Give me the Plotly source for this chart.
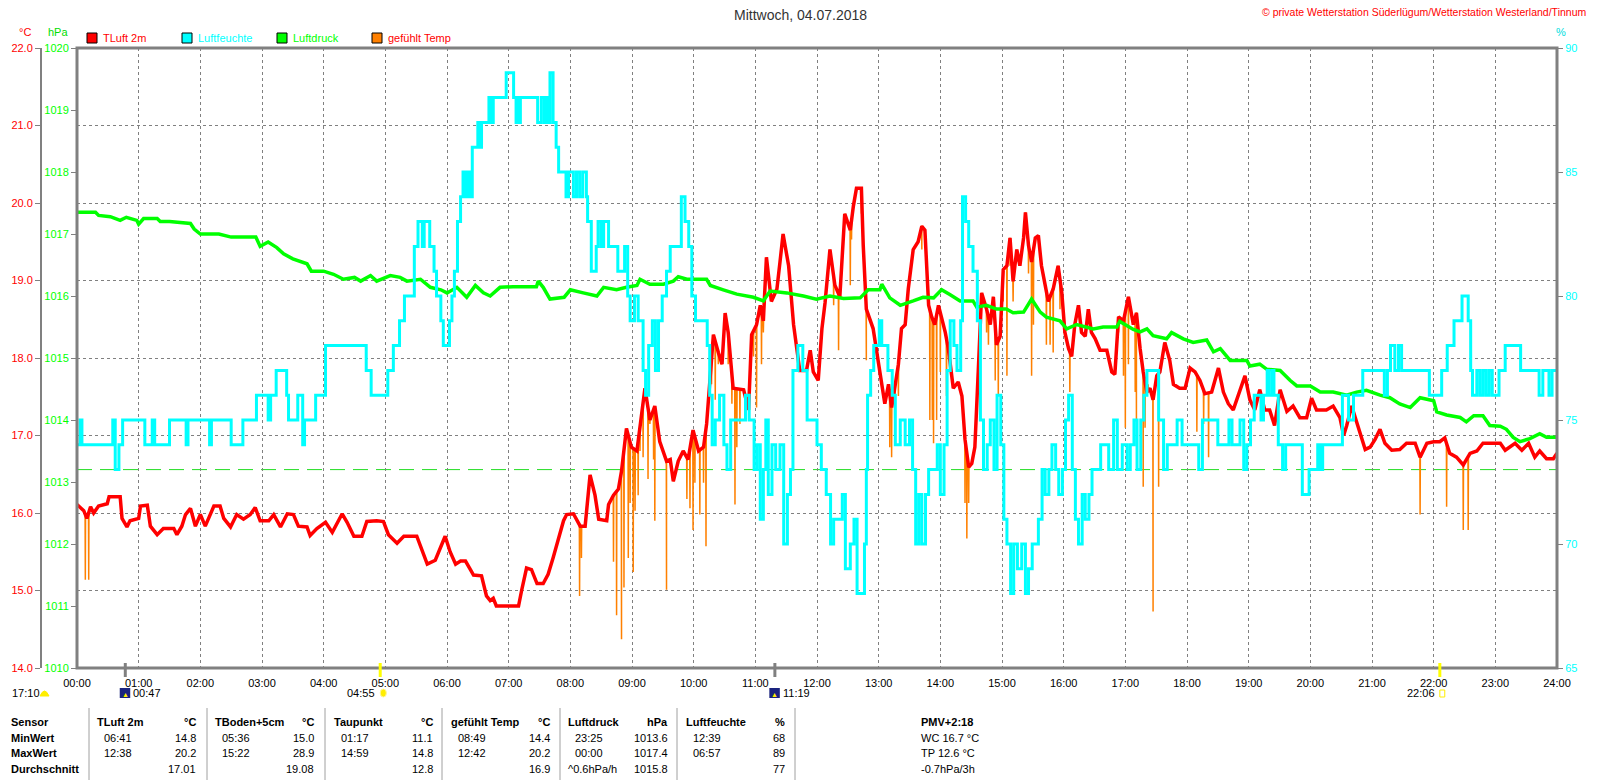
import numpy as np
import plotly.graph_objects as go

# ------------------------------------------------------------------
# Messwerte 04.07.2018 (Zeit in Stunden, abgelesen aus der Grafik)
# ------------------------------------------------------------------
tluft_zeit = [0.0, 0.11, 0.16, 0.22, 0.27, 0.35, 0.49, 0.52, 0.7, 0.73, 0.81, 0.86, 1.0, 1.03, 1.14, 1.19,
              1.3, 1.4, 1.57, 1.62, 1.7, 1.76, 1.84, 1.92, 2.0, 2.08, 2.22, 2.32, 2.38, 2.49, 2.59, 2.7,
              2.81, 2.89, 2.97, 3.11, 3.19, 3.3, 3.41, 3.51, 3.59, 3.73, 3.78, 3.89, 4.03, 4.14, 4.3, 4.38,
              4.49, 4.62, 4.7, 4.86, 4.97, 5.05, 5.19, 5.3, 5.51, 5.62, 5.68, 5.81, 5.86, 5.97, 6.05, 6.14,
              6.22, 6.3, 6.38, 6.43, 6.56, 6.64, 6.7, 6.75, 6.8, 7.16, 7.21, 7.29, 7.37, 7.46, 7.56, 7.64,
              7.72, 7.81, 7.89, 7.94, 8.05, 8.16, 8.24, 8.32, 8.4, 8.46, 8.59, 8.62, 8.7, 8.78, 8.83, 8.91,
              8.99, 9.08, 9.16, 9.21, 9.29, 9.37, 9.45, 9.56, 9.62, 9.67, 9.75, 9.83, 9.91, 9.99, 10.08, 10.16,
              10.21, 10.27, 10.32, 10.4, 10.46, 10.51, 10.56, 10.64, 10.81, 10.89, 10.94, 11.02, 11.08, 11.13, 11.18, 11.26,
              11.35, 11.4, 11.45, 11.54, 11.62, 11.72, 11.83, 11.89, 11.94, 12.02, 12.08, 12.13, 12.21, 12.29, 12.37, 12.45,
              12.54, 12.59, 12.64, 12.72, 12.75, 12.8, 12.86, 12.91, 12.99, 13.05, 13.1, 13.16, 13.21, 13.26, 13.32, 13.37,
              13.43, 13.48, 13.56, 13.64, 13.7, 13.75, 13.81, 13.86, 13.91, 13.97, 14.02, 14.08, 14.13, 14.21, 14.29, 14.35,
              14.4, 14.46, 14.51, 14.56, 14.62, 14.67, 14.75, 14.81, 14.86, 14.91, 14.97, 15.02, 15.08, 15.13, 15.18, 15.24,
              15.29, 15.35, 15.38, 15.43, 15.48, 15.54, 15.59, 15.64, 15.7, 15.75, 15.83, 15.91, 15.97, 16.02, 16.08, 16.13,
              16.18, 16.24, 16.29, 16.35, 16.4, 16.45, 16.51, 16.59, 16.7, 16.78, 16.83, 16.89, 16.97, 17.05, 17.13, 17.18,
              17.24, 17.29, 17.35, 17.4, 17.45, 17.51, 17.56, 17.64, 17.72, 17.78, 17.88, 17.97, 18.05, 18.13, 18.21, 18.29,
              18.4, 18.51, 18.59, 18.67, 18.75, 18.83, 18.94, 19.02, 19.1, 19.18, 19.26, 19.34, 19.42, 19.51, 19.62, 19.72,
              19.83, 19.94, 20.02, 20.1, 20.26, 20.37, 20.48, 20.54, 20.59, 20.67, 20.75, 20.8, 20.89, 20.97, 21.05, 21.13,
              21.21, 21.32, 21.45, 21.56, 21.7, 21.78, 21.89, 22.0, 22.1, 22.18, 22.26, 22.37, 22.48, 22.59, 22.7, 22.8,
              22.91, 23.08, 23.16, 23.32, 23.43, 23.54, 23.64, 23.72, 23.83, 23.94, 24.0]
tluft_wert = [16.11, 16.03, 15.93, 16.08, 16.0, 16.09, 16.12, 16.21, 16.21, 15.93, 15.82, 15.9, 15.93, 16.09, 16.1, 15.83,
              15.72, 15.8, 15.8, 15.72, 15.83, 15.98, 16.06, 15.83, 15.98, 15.83, 16.09, 16.09, 15.93, 15.82, 15.98, 15.92,
              15.98, 16.07, 15.9, 15.9, 15.98, 15.82, 15.99, 15.98, 15.83, 15.82, 15.71, 15.8, 15.88, 15.75, 15.99, 15.88,
              15.7, 15.7, 15.89, 15.9, 15.89, 15.72, 15.61, 15.7, 15.7, 15.47, 15.34, 15.39, 15.48, 15.7, 15.5, 15.34,
              15.38, 15.38, 15.27, 15.2, 15.19, 14.93, 14.87, 14.9, 14.8, 14.8, 15.0, 15.29, 15.27, 15.09, 15.09, 15.21,
              15.42, 15.67, 15.9, 15.98, 15.99, 15.83, 15.83, 16.49, 16.23, 15.92, 15.9, 16.11, 16.23, 16.31, 16.54, 17.09,
              16.85, 16.8, 17.31, 17.61, 17.2, 17.38, 16.92, 16.67, 16.69, 16.41, 16.67, 16.8, 16.69, 17.07, 16.8, 16.85,
              17.15, 17.84, 18.3, 18.07, 17.92, 18.58, 18.33, 17.61, 17.59, 17.33, 18.3, 18.43, 18.68, 18.48, 19.3, 18.73,
              18.89, 19.24, 19.6, 19.19, 18.43, 17.84, 17.84, 18.1, 17.82, 17.71, 18.38, 18.71, 19.4, 18.94, 18.79, 19.86,
              19.65, 19.96, 20.19, 20.19, 19.45, 18.63, 18.48, 18.38, 17.97, 17.66, 17.41, 17.66, 17.36, 17.61, 17.92, 18.38,
              18.43, 18.89, 19.4, 19.5, 19.7, 19.65, 18.68, 18.53, 18.43, 18.68, 18.53, 18.33, 18.12, 17.61, 17.69, 17.51,
              16.95, 16.59, 16.64, 16.85, 17.92, 18.84, 18.63, 18.43, 18.79, 18.17, 18.28, 19.14, 19.19, 19.55, 18.99, 19.4,
              19.19, 19.55, 19.88, 19.45, 19.24, 19.55, 19.58, 19.19, 18.94, 18.73, 18.89, 19.19, 18.84, 18.33, 18.12, 18.02,
              18.43, 18.68, 18.33, 18.28, 18.63, 18.33, 18.25, 18.1, 18.1, 17.82, 17.79, 18.53, 18.48, 18.79, 18.43, 18.58,
              18.12, 17.82, 17.56, 17.61, 17.46, 17.77, 17.82, 18.2, 17.97, 17.66, 17.61, 17.61, 17.87, 17.82, 17.71, 17.54,
              17.56, 17.87, 17.56, 17.41, 17.33, 17.51, 17.77, 17.46, 17.33, 17.59, 17.33, 17.33, 17.13, 17.59, 17.31, 17.38,
              17.23, 17.23, 17.48, 17.33, 17.33, 17.38, 17.23, 17.0, 17.13, 17.38, 17.18, 17.03, 16.82, 16.85, 16.95, 17.08,
              16.9, 16.81, 16.82, 16.9, 16.9, 16.72, 16.9, 16.92, 16.92, 16.97, 16.77, 16.72, 16.62, 16.77, 16.8, 16.9,
              16.9, 16.9, 16.81, 16.9, 16.81, 16.9, 16.72, 16.8, 16.7, 16.7, 16.77]

# gefuehlte Temperatur: Abweichungen nach unten (sonst = TLuft)
gefuehlt_zeit = [0.135, 0.19, 8.15, 8.18, 8.7, 8.75, 8.83, 8.87, 8.94, 8.97, 9.02, 9.05, 9.1, 9.13, 9.18, 9.26,
                 9.29, 9.35, 9.37, 9.56, 9.89, 9.94, 9.99, 10.02, 10.1, 10.16, 10.2, 10.29, 10.35, 10.4, 10.56, 10.62,
                 10.67, 10.7, 10.75, 10.97, 11.02, 11.1, 11.13, 12.27, 12.35, 12.54, 12.56, 12.72, 12.8, 13.18, 13.21, 13.26,
                 13.32, 13.7, 13.83, 13.87, 13.89, 13.94, 14.0, 14.1, 14.4, 14.43, 14.46, 14.75, 14.78, 14.89, 14.94, 15.02,
                 15.08, 15.13, 15.18, 15.43, 15.48, 15.51, 15.72, 15.78, 15.83, 15.94, 16.1, 16.21, 16.89, 16.97, 17.0, 17.05,
                 17.16, 17.18, 17.29, 17.32, 17.37, 17.45, 17.54, 18.16, 18.27, 18.35, 18.81, 21.78, 22.21, 22.48, 22.56]
gefuehlt_wert = [15.14, 15.14, 14.93, 15.42, 15.37, 14.68, 14.37, 15.04, 15.42, 16.13, 15.24, 16.03, 16.23, 16.8, 16.72, 16.44,
                 17.15, 16.69, 15.9, 15.01, 16.18, 16.06, 15.78, 16.39, 15.98, 16.39, 15.57, 17.66, 17.46, 17.92, 17.92, 17.41,
                 16.11, 16.85, 17.15, 18.02, 17.36, 17.92, 18.33, 18.68, 18.1, 18.94, 19.53, 19.86, 17.97, 16.85, 16.72, 17.2,
                 17.51, 19.4, 17.2, 17.2, 16.9, 17.2, 17.82, 17.51, 16.13, 15.67, 16.13, 18.33, 18.17, 17.71, 17.51, 18.73,
                 17.77, 19.19, 18.73, 19.09, 17.77, 18.43, 18.17, 18.17, 18.07, 18.63, 17.56, 18.58, 18.33, 17.77, 17.1, 17.92,
                 17.56, 17.2, 16.34, 17.1, 17.66, 14.73, 16.34, 17.05, 17.15, 16.72, 17.51, 15.98, 16.08, 15.78, 15.78]

feuchte_zeit = [0.0, 0.05, 0.08, 0.58, 0.62, 0.68, 0.74, 1.1, 1.22, 1.26, 1.5, 1.77, 1.8, 2.15, 2.18, 2.5,
                2.69, 2.91, 3.1, 3.14, 3.23, 3.4, 3.43, 3.58, 3.66, 3.69, 3.87, 4.03, 4.69, 4.77, 5.04, 5.13,
                5.23, 5.31, 5.47, 5.53, 5.6, 5.63, 5.72, 5.79, 5.83, 5.9, 5.94, 6.04, 6.08, 6.12, 6.17, 6.22,
                6.26, 6.3, 6.33, 6.37, 6.41, 6.5, 6.53, 6.56, 6.68, 6.72, 6.75, 6.96, 7.08, 7.12, 7.14, 7.17,
                7.19, 7.47, 7.53, 7.58, 7.6, 7.64, 7.67, 7.72, 7.77, 7.81, 7.93, 7.97, 8.05, 8.1, 8.15, 8.2,
                8.26, 8.28, 8.34, 8.42, 8.45, 8.5, 8.54, 8.62, 8.77, 8.88, 8.93, 8.97, 9.04, 9.1, 9.18, 9.22,
                9.27, 9.33, 9.38, 9.43, 9.49, 9.56, 9.62, 9.8, 9.86, 9.92, 9.97, 10.03, 10.22, 10.26, 10.3, 10.35,
                10.42, 10.49, 10.54, 10.6, 10.84, 10.9, 10.98, 11.03, 11.08, 11.13, 11.17, 11.21, 11.27, 11.33, 11.4, 11.46,
                11.52, 11.57, 11.61, 11.69, 11.77, 11.84, 12.0, 12.07, 12.15, 12.22, 12.27, 12.41, 12.46, 12.54, 12.6, 12.65,
                12.77, 12.8, 12.82, 12.87, 12.92, 13.01, 13.05, 13.15, 13.22, 13.27, 13.35, 13.43, 13.5, 13.55, 13.6, 13.65,
                13.7, 13.76, 13.81, 13.95, 14.0, 14.06, 14.11, 14.16, 14.22, 14.27, 14.33, 14.36, 14.41, 14.46, 14.53, 14.6,
                14.65, 14.7, 14.76, 14.81, 14.87, 14.92, 14.98, 15.03, 15.08, 15.14, 15.19, 15.25, 15.32, 15.38, 15.43, 15.49,
                15.59, 15.65, 15.7, 15.76, 15.81, 15.87, 15.92, 15.98, 16.03, 16.08, 16.14, 16.19, 16.24, 16.3, 16.35, 16.41,
                16.46, 16.6, 16.73, 16.81, 16.87, 16.95, 17.03, 17.08, 17.14, 17.19, 17.25, 17.3, 17.35, 17.54, 17.62, 17.68,
                17.84, 17.92, 18.19, 18.25, 18.5, 18.68, 18.73, 18.86, 18.92, 18.97, 19.03, 19.09, 19.2, 19.24, 19.3, 19.33,
                19.38, 19.41, 19.48, 19.55, 19.6, 19.87, 19.98, 20.12, 20.16, 20.2, 20.52, 20.62, 20.7, 20.85, 21.2, 21.25,
                21.3, 21.37, 21.43, 21.48, 21.93, 22.13, 22.22, 22.33, 22.46, 22.56, 22.6, 22.63, 22.7, 22.75, 22.8, 22.85,
                22.9, 22.95, 23.06, 23.16, 23.41, 23.71, 23.77, 23.87, 23.92, 24.0]
feuchte_wert = [74, 75, 74, 75, 73, 74, 75, 74, 75, 74, 75, 74, 75, 74, 75, 74,
                75, 76, 75, 76, 77, 76, 75, 76, 74, 75, 76, 78, 77, 76, 77, 78,
                79, 80, 82, 83, 82, 83, 82, 81, 80, 79, 78, 79, 80, 81, 83, 84,
                85, 84, 85, 84, 86, 87, 86, 87, 88, 87, 88, 89, 88, 87, 88, 87,
                88, 87, 88, 87, 88, 87, 89, 87, 86, 85, 84, 85, 84, 85, 84, 85,
                84, 83, 81, 82, 83, 82, 83, 82, 81, 82, 80, 79, 80, 79, 77, 76,
                78, 79, 77, 79, 80, 81, 82, 84, 83, 82, 80, 79, 78, 76, 74, 75,
                76, 74, 73, 75, 76, 75, 73, 74, 71, 73, 75, 72, 74, 73, 74, 70,
                72, 73, 77, 78, 77, 75, 74, 73, 72, 70, 71, 72, 69, 70, 71, 68,
                70, 73, 76, 77, 78, 79, 78, 77, 76, 74, 75, 74, 75, 73, 70, 72,
                70, 72, 73, 74, 72, 74, 77, 79, 78, 77, 79, 84, 83, 82, 81, 79,
                75, 73, 74, 75, 73, 76, 74, 71, 70, 68, 70, 69, 70, 68, 69, 70,
                71, 73, 72, 73, 74, 73, 72, 73, 75, 76, 73, 71, 70, 72, 71, 72,
                73, 74, 73, 75, 73, 74, 73, 74, 75, 73, 75, 76, 77, 75, 73, 74,
                75, 74, 73, 75, 74, 75, 74, 75, 73, 74, 75, 76, 75, 76, 77, 76,
                77, 76, 74, 73, 74, 72, 73, 74, 73, 74, 76, 75, 76, 77, 76, 77,
                78, 77, 78, 77, 76, 77, 78, 79, 80, 79, 77, 76, 77, 76, 77, 76,
                77, 76, 77, 78, 77, 76, 77, 76, 77, 77]

druck_zeit = [0.0, 0.3, 0.35, 0.54, 0.7, 0.8, 0.97, 1.0, 1.08, 1.3, 1.35, 1.5, 1.84, 1.9, 2.0, 2.3,
              2.5, 2.9, 2.97, 3.1, 3.24, 3.35, 3.5, 3.73, 3.8, 4.0, 4.16, 4.32, 4.5, 4.6, 4.76, 4.86,
              5.08, 5.24, 5.35, 5.57, 5.73, 5.9, 6.0, 6.16, 6.32, 6.46, 6.59, 6.7, 6.86, 7.07, 7.45, 7.48,
              7.56, 7.67, 7.9, 8.0, 8.21, 8.43, 8.54, 8.75, 8.91, 9.08, 9.13, 9.29, 9.51, 9.67, 9.75, 9.89,
              10.21, 10.27, 10.48, 10.7, 10.97, 11.13, 11.24, 11.51, 11.78, 11.99, 12.21, 12.43, 12.7, 12.83, 13.02, 13.05,
              13.18, 13.35, 13.56, 13.72, 13.89, 14.02, 14.16, 14.32, 14.53, 14.59, 14.75, 14.91, 15.07, 15.18, 15.35, 15.48,
              15.62, 15.72, 15.94, 16.05, 16.21, 16.48, 16.64, 16.86, 16.91, 17.13, 17.24, 17.35, 17.45, 17.67, 17.75, 17.94,
              18.1, 18.32, 18.43, 18.54, 18.7, 18.97, 19.02, 19.18, 19.29, 19.51, 19.67, 19.78, 20.0, 20.16, 20.37, 20.59,
              20.75, 20.91, 21.13, 21.29, 21.45, 21.62, 21.78, 22.0, 22.05, 22.21, 22.43, 22.53, 22.65, 22.8, 22.91, 23.08,
              23.18, 23.29, 23.4, 23.56, 23.72, 23.83, 24.0]
druck_wert = [1017.35, 1017.35, 1017.3, 1017.28, 1017.22, 1017.27, 1017.22, 1017.16, 1017.25, 1017.25, 1017.2, 1017.2, 1017.17, 1017.08, 1017.0, 1017.0,
              1016.95, 1016.95, 1016.8, 1016.87, 1016.78, 1016.68, 1016.6, 1016.52, 1016.4, 1016.4, 1016.35, 1016.27, 1016.3, 1016.24, 1016.33, 1016.24,
              1016.33, 1016.3, 1016.24, 1016.27, 1016.14, 1016.1, 1016.05, 1016.14, 1015.98, 1016.17, 1016.05, 1016.0, 1016.14, 1016.15, 1016.15, 1016.24,
              1016.14, 1015.95, 1015.98, 1016.1, 1016.05, 1016.0, 1016.14, 1016.1, 1016.14, 1016.17, 1016.27, 1016.19, 1016.19, 1016.24, 1016.31, 1016.27,
              1016.27, 1016.17, 1016.1, 1016.03, 1015.98, 1015.92, 1016.08, 1016.05, 1016.0, 1015.95, 1016.0, 1015.96, 1015.97, 1016.1, 1016.1, 1016.19,
              1015.97, 1015.85, 1015.92, 1015.98, 1015.97, 1016.1, 1016.02, 1015.92, 1015.92, 1015.82, 1015.85, 1015.79, 1015.79, 1015.73, 1015.74, 1015.95,
              1015.74, 1015.66, 1015.6, 1015.47, 1015.54, 1015.47, 1015.5, 1015.5, 1015.59, 1015.46, 1015.42, 1015.47, 1015.36, 1015.31, 1015.41, 1015.31,
              1015.25, 1015.29, 1015.1, 1015.15, 1014.96, 1014.96, 1014.87, 1014.9, 1014.82, 1014.8, 1014.64, 1014.55, 1014.55, 1014.45, 1014.45, 1014.4,
              1014.45, 1014.48, 1014.4, 1014.36, 1014.26, 1014.2, 1014.36, 1014.31, 1014.13, 1014.08, 1014.04, 1013.97, 1014.07, 1014.07, 1013.91, 1013.9,
              1013.85, 1013.72, 1013.65, 1013.7, 1013.78, 1013.72, 1013.72]
druck_referenz = 1013.2

stunden = list(range(25))
stunden_text = [f"{h:02d}:00" for h in stunden]

# Mond / Sonne
mond_zeiten = [0.783, 11.317]
mond_text = ["00:47", "11:19"]
sonne_zeiten = [4.917, 22.1]
sonne_text = ["04:55", "22:06"]

# Tabelle
sensoren = ["TLuft 2m", "TBoden+5cm", "Taupunkt", "gefühlt Temp", "Luftdruck", "Luftfeuchte"]
einheiten = ["°C", "°C", "°C", "°C", "hPa", "%"]
min_zeit = ["06:41", "05:36", "01:17", "08:49", "23:25", "12:39"]
min_wert = ["14.8", "15.0", "11.1", "14.4", "1013.6", "68"]
max_zeit = ["12:38", "15:22", "14:59", "12:42", "00:00", "06:57"]
max_wert = ["20.2", "28.9", "14.8", "20.2", "1017.4", "89"]
mittel_wert = ["17.01", "19.08", "12.8", "16.9", "1015.8", "77"]
mittel_zeit = ["", "", "", "", "^0.6hPa/h", ""]
zusatz = ["PMV+2:18", "WC 16.7 °C", "TP 12.6 °C", "-0.7hPa/3h"]

FONT = "Liberation Sans, Arial, sans-serif"
W, H = 1600, 780
GRAU = "#808080"


def px(x):
    return x / W


def py(y):
    return 1 - y / H


# gefuehlte Temp = TLuft plus kurze Ausschlaege
g_pts = list(zip(tluft_zeit, tluft_wert))
for t, v in zip(gefuehlt_zeit, gefuehlt_wert):
    r = float(np.interp(t, tluft_zeit, tluft_wert))
    g_pts += [(t - 0.004, r), (t, v), (t + 0.004, r)]
g_pts.sort()

fig = go.Figure()
fig.add_trace(go.Scatter(x=druck_zeit, y=druck_wert, yaxis="y2", mode="lines",
                         line=dict(color="#00FF00", width=3.5), name="Luftdruck"))
fig.add_trace(go.Scatter(x=feuchte_zeit, y=feuchte_wert, yaxis="y3", mode="lines",
                         line=dict(color="#00FFFF", width=3, shape="hv"), name="Luftfeuchte"))
fig.add_trace(go.Scatter(x=[p[0] for p in g_pts], y=[p[1] for p in g_pts], mode="lines",
                         line=dict(color="#FF8000", width=1.5), name="gefühlt Temp"))
fig.add_trace(go.Scatter(x=tluft_zeit, y=tluft_wert, mode="lines",
                         line=dict(color="#FF0000", width=3.5), name="TLuft 2m"))

shapes = []
# Bezugslinie Luftdruck
shapes.append(dict(type="line", xref="x", yref="y2", x0=0, x1=24, y0=druck_referenz, y1=druck_referenz,
                   line=dict(color="#22DD22", width=1, dash="15px,8px"), layer="below"))
# Rahmen
shapes.append(dict(type="rect", xref="paper", yref="paper", x0=px(77), x1=px(1557), y0=py(668), y1=py(48),
                   line=dict(color=GRAU, width=3)))
# Mond/Sonne Markierungen an der Zeitachse
for t in mond_zeiten:
    shapes.append(dict(type="line", xref="x", yref="paper", x0=t, x1=t, y0=py(663), y1=py(677),
                       line=dict(color=GRAU, width=3)))
    shapes.append(dict(type="rect", xref="x", yref="paper", x0=t - 0.09, x1=t + 0.08, y0=py(698), y1=py(688),
                       fillcolor="#1A237E", line=dict(width=0)))
for t in sonne_zeiten:
    shapes.append(dict(type="line", xref="x", yref="paper", x0=t, x1=t, y0=py(663), y1=py(677),
                       line=dict(color="#FFFF00", width=3)))
# Sonnen-Symbol (Aufgang) als Kreis
shapes.append(dict(type="circle", xref="x", yref="paper", x0=sonne_zeiten[0] + 0.0, x1=sonne_zeiten[0] + 0.1,
                   y0=py(697), y1=py(689), fillcolor="#FFEE00", line=dict(color="#FFF59D", width=1)))
# Tabellen-Trennlinien
for xs in [89, 207, 325, 442, 560, 677, 795]:
    shapes.append(dict(type="line", xref="paper", yref="paper", x0=px(xs), x1=px(xs), y0=py(708), y1=0,
                       line=dict(color="#A0A0A0", width=1)))

ann = []


def text(x, y, s, color="black", size=11, anchor="left", bold=False):
    ann.append(dict(x=px(x), y=py(y), xref="paper", yref="paper", text=f"<b>{s}</b>" if bold else s,
                    showarrow=False, xanchor=anchor, yanchor="middle",
                    font=dict(family=FONT, size=size, color=color)))


text(800, 15, "Mittwoch, 04.07.2018", color="#333333", size=14, anchor="center")
text(1588, 12, "© private Wetterstation Süderlügum/Wetterstation Westerland/Tinnum", color="#FF0000", size=10.5,
     anchor="right")
text(25, 32, "°C", color="#FF0000", anchor="center")
text(58, 32, "hPa", color="#00DD00", anchor="center")
text(1561, 32, "%", color="#00DDDD", anchor="center")

legende = [("TLuft 2m", "#FF0000", "#FF0000", 87), ("Luftfeuchte", "#00FFFF", "#00FFFF", 182),
           ("Luftdruck", "#00FF00", "#00FF00", 277), ("gefühlt Temp", "#FF8000", "#FF0000", 372)]
for name, fill, tcol, lx in legende:
    shapes.append(dict(type="rect", xref="paper", yref="paper", x0=px(lx), x1=px(lx + 10), y0=py(43), y1=py(33),
                       fillcolor=fill, line=dict(color="black", width=1)))
    text(lx + 14, 38, name, color=tcol)

# Mond / Sonne Beschriftungen
text(10, 693, "17:10")
shapes.append(dict(type="path", xref="paper", yref="paper",
                   path=f"M {px(40)},{py(696)} Q {px(44.5)},{py(686)} {px(49)},{py(696)} Z",
                   fillcolor="#FFEE00", line=dict(color="#FFEE00", width=1)))
for t, s in zip(mond_zeiten, mond_text):
    ann.append(dict(x=t + 0.1, y=py(693), xref="x", yref="paper", text=s, showarrow=False, xanchor="left",
                    yanchor="middle", font=dict(family=FONT, size=11, color="black")))
    ann.append(dict(x=t, y=py(694), xref="x", yref="paper", text="▲", showarrow=False, xanchor="center",
                    yanchor="middle", font=dict(size=7, color="#FFEE00")))
for t, s in zip(sonne_zeiten, sonne_text):
    ann.append(dict(x=t - 0.05, y=py(693), xref="x", yref="paper", text=s, showarrow=False, xanchor="right",
                    yanchor="middle", font=dict(family=FONT, size=11, color="black")))
shapes.append(dict(type="rect", xref="x", yref="paper", x0=sonne_zeiten[1] + 0.0, x1=sonne_zeiten[1] + 0.08,
                   y0=py(697), y1=py(690), fillcolor="rgba(0,0,0,0)", line=dict(color="#FFEE00", width=1)))

# Tabelle
zeilen_y = [722, 738, 753, 769]
text(9, zeilen_y[0], "Sensor", bold=True)
text(9, zeilen_y[1], "MinWert", bold=True)
text(9, zeilen_y[2], "MaxWert", bold=True)
text(9, zeilen_y[3], "Durchschnitt", bold=True)
col_l = [95, 213, 332, 449, 566, 684]
col_r = [198, 316, 435, 552, 670, 787]
for i in range(len(sensoren)):
    text(col_l[i], zeilen_y[0], sensoren[i], bold=True)
    text(col_r[i], zeilen_y[0], einheiten[i], bold=True, anchor="right")
    text(col_l[i] + 7, zeilen_y[1], min_zeit[i])
    text(col_r[i], zeilen_y[1], min_wert[i], anchor="right")
    text(col_l[i] + 7, zeilen_y[2], max_zeit[i])
    text(col_r[i], zeilen_y[2], max_wert[i], anchor="right")
    if mittel_zeit[i]:
        text(col_l[i], zeilen_y[3], mittel_zeit[i])
    text(col_r[i], zeilen_y[3], mittel_wert[i], anchor="right")
for j, s in enumerate(zusatz):
    text(919, zeilen_y[j], s, bold=(j == 0))

fig.update_layout(
    width=W, height=H, margin=dict(l=0, r=0, t=0, b=0, autoexpand=False),
    paper_bgcolor="white", plot_bgcolor="white", showlegend=False,
    font=dict(family=FONT, size=11, color="black"),
    xaxis=dict(domain=[px(77), px(1557)], range=[0, 24], tickvals=stunden, ticktext=stunden_text,
               showgrid=True, gridcolor=GRAU, griddash="3px,3px", gridwidth=1, zeroline=False,
               showline=False, ticks="outside", ticklen=5, tickcolor="rgba(0,0,0,0)", automargin=False,
               tickfont=dict(family=FONT, size=11, color="black")),
    yaxis=dict(domain=[py(668), py(48)], range=[14, 22], dtick=1, tickformat=".1f",
               anchor="free", position=px(41), side="left", showline=True, linecolor=GRAU, linewidth=2,
               ticks="outside", ticklen=5, tickcolor=GRAU, tickfont=dict(family=FONT, size=11, color="#FF0000"),
               showgrid=True, gridcolor=GRAU, griddash="3px,3px", gridwidth=1, zeroline=False,
               automargin=False),
    yaxis2=dict(overlaying="y", anchor="x", side="left", range=[1010, 1020], dtick=1, showgrid=False,
                showline=False, ticks="outside", ticklen=5, tickcolor=GRAU, zeroline=False, automargin=False,
                tickfont=dict(family=FONT, size=11, color="#00FF00")),
    yaxis3=dict(overlaying="y", anchor="x", side="right", range=[65, 90], dtick=5, showgrid=False,
                showline=False, ticks="outside", ticklen=5, tickcolor=GRAU, zeroline=False, automargin=False,
                tickfont=dict(family=FONT, size=11, color="#00FFFF")),
    shapes=shapes, annotations=ann,
)

fig.write_html("out.html", config={"displayModeBar": False},
               post_script="document.body.style.margin='0';")
